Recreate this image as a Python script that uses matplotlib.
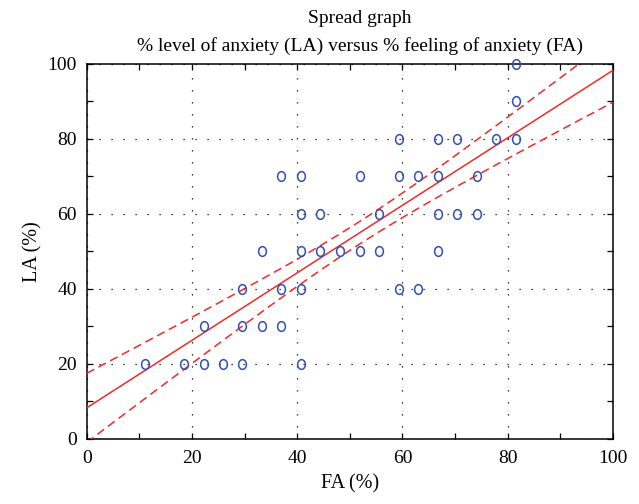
import numpy as np
import matplotlib
matplotlib.use("Agg")
import matplotlib.pyplot as plt
from matplotlib.path import Path
from matplotlib.transforms import Affine2D
from matplotlib.ticker import MultipleLocator

# ─── données ─────────────────────────────────────────────────────────────────
FA = [11.1, 18.5, 22.2, 25.9, 29.6, 40.7,
      22.2, 29.6, 33.3, 37.0,
      29.6, 37.0, 40.7, 59.3, 63.0,
      33.3, 40.7, 44.4, 48.1, 51.9, 55.6, 66.7,
      40.7, 44.4, 55.6, 66.7, 70.4, 74.1,
      37.0, 40.7, 51.9, 59.3, 63.0, 66.7, 74.1,
      59.3, 66.7, 70.4, 77.8, 81.5,
      81.5, 81.5]
LA = [20, 20, 20, 20, 20, 20,
      30, 30, 30, 30,
      40, 40, 40, 40, 40,
      50, 50, 50, 50, 50, 50, 50,
      60, 60, 60, 60, 60, 60,
      70, 70, 70, 70, 70, 70, 70,
      80, 80, 80, 80, 80,
      90, 100]

# droite de régression et bande de confiance 95 %
REG_ORDONNEE = 8.3
REG_PENTE = 0.899
REG_X_MOYEN = 52.2
IC_AU_MOYEN = 3.0     # demi-largeur de la bande au point moyen
IC_PENTE = 0.1666     # demi-largeur de l'IC sur la pente

TITRE = "Spread graph\n% level of anxiety (LA) versus % feeling of anxiety (FA)"

plt.rcParams["font.family"] = ["Liberation Serif", "DejaVu Serif"]

ROUGE = "#f22a2a"
BLEU = "#3050b2"

xs = np.linspace(0, 100, 300)
ys = REG_ORDONNEE + REG_PENTE * xs
marge = np.sqrt(IC_AU_MOYEN ** 2 + (IC_PENTE * (xs - REG_X_MOYEN)) ** 2)

fig = plt.figure(figsize=(6.39, 5.04), dpi=100)
ax = fig.add_axes([0.1357, 0.129, 0.8236, 0.745])

# marqueur ellipse (un peu plus haut que large)
ellipse = Path.unit_circle().transformed(Affine2D().scale(0.8, 1.0))

ax.plot(xs, ys, color=ROUGE, lw=1.1, zorder=3)
ax.plot(xs, ys + marge, color=ROUGE, lw=1.1, ls=(0, (5.5, 3.2)), zorder=3)
ax.plot(xs, ys - marge, color=ROUGE, lw=1.1, ls=(0, (5.5, 3.2)), zorder=3)
ax.plot(FA, LA, ls="none", marker=ellipse, ms=7, mfc="none",
        mec=BLEU, mew=1.1, zorder=4, clip_on=False)

ax.set_xlim(0, 100)
ax.set_ylim(0, 100)
ax.xaxis.set_major_locator(MultipleLocator(20))
ax.yaxis.set_major_locator(MultipleLocator(20))
ax.xaxis.set_minor_locator(MultipleLocator(10))
ax.yaxis.set_minor_locator(MultipleLocator(10))
ax.tick_params(which="both", direction="in", top=True, right=True,
               length=4, width=0.9, labelsize=14, colors="black")
ax.tick_params(axis="x", pad=8)
ax.tick_params(axis="y", pad=7)
ax.grid(True, which="major", color="black", lw=0.9, ls=(0, (1, 8.6)))
for sp in ax.spines.values():
    sp.set_linewidth(1.1)

ax.set_title(TITRE, fontsize=14, pad=9, linespacing=1.75, x=0.519)
ax.set_xlabel("FA (%)", fontsize=14.5, labelpad=5)
ax.set_ylabel("LA (%)", fontsize=14.5, labelpad=4)

fig.savefig("out.png", dpi=100)
